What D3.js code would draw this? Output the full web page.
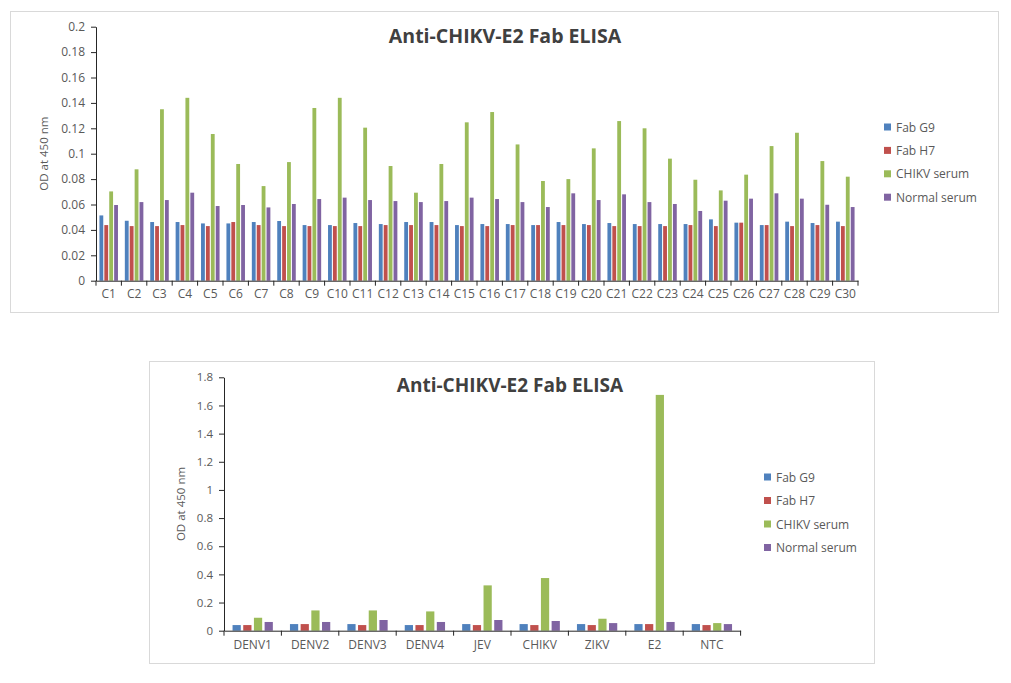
<!DOCTYPE html>
<html><head><meta charset="utf-8">
<script src="https://cdn.jsdelivr.net/npm/d3@7"></script>
<style>
body{margin:0;background:#fff;}
svg text{font-family:"Open Sans","DejaVu Sans",sans-serif;}
</style></head>
<body><svg id="c" width="1011" height="683"></svg>
<script>
const seriesNames = ["Fab G9","Fab H7","CHIKV serum","Normal serum"];
const colors = ["#4F81BD","#C0504D","#9BBB59","#8064A2"];
const chartTitle = "Anti-CHIKV-E2 Fab ELISA";
const yLabel = "OD at 450 nm";

// Top chart
const topCats = ["C1","C2","C3","C4","C5","C6","C7","C8","C9","C10","C11","C12","C13","C14","C15","C16","C17","C18","C19","C20","C21","C22","C23","C24","C25","C26","C27","C28","C29","C30"];
const topG9 = [0.0514,0.0472,0.0462,0.0462,0.0451,0.0451,0.0462,0.047,0.0438,0.0438,0.0454,0.0446,0.0462,0.0462,0.0438,0.0446,0.0446,0.0438,0.0462,0.0446,0.0454,0.0446,0.0446,0.0446,0.0483,0.0457,0.0438,0.0465,0.0454,0.0465];
const topH7 = [0.0438,0.043,0.043,0.0438,0.043,0.0462,0.0438,0.043,0.043,0.043,0.043,0.0438,0.0438,0.0438,0.043,0.043,0.0438,0.0438,0.0438,0.0438,0.043,0.043,0.043,0.0438,0.043,0.0457,0.0438,0.043,0.0438,0.043];
const topCHIKV = [0.0703,0.0877,0.135,0.144,0.1155,0.0919,0.0745,0.0934,0.136,0.144,0.1205,0.0903,0.0693,0.0919,0.1247,0.1328,0.1073,0.0785,0.08,0.1042,0.1257,0.12,0.0961,0.0795,0.0711,0.0835,0.106,0.1165,0.0942,0.0819];
const topNormal = [0.0596,0.0619,0.0635,0.0693,0.0588,0.0596,0.0577,0.0604,0.0643,0.0654,0.0635,0.0627,0.0619,0.0627,0.0654,0.0643,0.0619,0.058,0.0688,0.0635,0.068,0.0619,0.0604,0.0549,0.063,0.0646,0.0688,0.0646,0.0598,0.058];
const topTicks = [0,0.02,0.04,0.06,0.08,0.1,0.12,0.14,0.16,0.18,0.2];
const topTickLabels = ["0","0.02","0.04","0.06","0.08","0.1","0.12","0.14","0.16","0.18","0.2"];

// Bottom chart
const botCats = ["DENV1","DENV2","DENV3","DENV4","JEV","CHIKV","ZIKV","E2","NTC"];
const botG9 = [0.040,0.047,0.047,0.040,0.047,0.047,0.047,0.047,0.047];
const botH7 = [0.040,0.047,0.040,0.040,0.040,0.040,0.040,0.047,0.040];
const botCHIKV = [0.092,0.144,0.144,0.137,0.322,0.374,0.085,1.675,0.054];
const botNormal = [0.062,0.062,0.076,0.062,0.076,0.069,0.054,0.062,0.047];
const botTicks = [0,0.2,0.4,0.6,0.8,1,1.2,1.4,1.6,1.8];
const botTickLabels = ["0","0.2","0.4","0.6","0.8","1","1.2","1.4","1.6","1.8"];

const svg = d3.select("#c");
const textCol = "#595959";
const axisCol = "#262626";

function drawChart(cfg){
  const g = svg.append("g");
  g.append("rect").attr("x",cfg.frame[0]+0.5).attr("y",cfg.frame[1]+0.5)
    .attr("width",cfg.frame[2]-cfg.frame[0]).attr("height",cfg.frame[3]-cfg.frame[1])
    .attr("fill","#fff").attr("stroke","#d9d9d9").attr("stroke-width",1);
  const x = d3.scaleBand().domain(cfg.cats).range([cfg.x0,cfg.x1]).paddingInner(0).paddingOuter(0);
  const y = d3.scaleLinear().domain([0,cfg.yMax]).range([cfg.yb,cfg.yt]);
  const inner = d3.scaleBand().domain(d3.range(4)).range([0,x.bandwidth()]).paddingOuter(cfg.outerPad).paddingInner(cfg.innerPad);
  const series = cfg.series;
  cfg.cats.forEach((c,i)=>{
    series.forEach((s,j)=>{
      g.append("rect").attr("x",x(c)+inner(j)).attr("width",inner.bandwidth())
        .attr("y",y(s[i])).attr("height",y(0)-y(s[i])).attr("fill",colors[j]);
    });
  });
  // y axis
  const ya = d3.axisLeft(y).tickValues(cfg.ticks).tickFormat((d,i)=>cfg.tickLabels[i]).tickSize(5).tickSizeOuter(0).tickPadding(6);
  const yg = g.append("g").attr("transform",`translate(${cfg.x0},0)`).call(ya);
  yg.select(".domain").attr("stroke",axisCol);
  yg.selectAll(".tick line").attr("stroke",axisCol);
  yg.selectAll(".tick text").attr("fill",textCol).attr("font-size",cfg.tickFs);
  // x axis
  const xa = d3.axisBottom(x).tickSize(0).tickPadding(cfg.xPad).tickSizeOuter(0);
  const xg = g.append("g").attr("transform",`translate(0,${cfg.yb})`).call(xa);
  xg.select(".domain").attr("stroke",axisCol);
  xg.selectAll(".tick text").attr("fill",textCol).attr("font-size",cfg.xFs);
  const bounds = cfg.cats.map(c=>x(c)).concat([x(cfg.cats[cfg.cats.length-1])+x.bandwidth()]);
  xg.selectAll("line.bt").data(bounds).enter().append("line").attr("class","bt")
    .attr("x1",d=>d).attr("x2",d=>d).attr("y1",0).attr("y2",5).attr("stroke",axisCol);
  // y label
  g.append("text").attr("transform",`translate(${cfg.ylx},${(cfg.yt+cfg.yb)/2}) rotate(-90)`)
    .attr("text-anchor","middle").attr("dominant-baseline","central").attr("fill",textCol)
    .attr("font-size",cfg.ylFs).text(yLabel);
  // title
  g.append("text").attr("x",cfg.titleX).attr("y",cfg.titleY).attr("text-anchor","middle")
    .attr("font-weight","bold").attr("font-size",cfg.titleFs).attr("fill","#404040").text(chartTitle);
  // legend
  seriesNames.forEach((n,j)=>{
    const ly = cfg.legY + j*cfg.legStep;
    g.append("rect").attr("x",cfg.legX).attr("y",ly-3.5).attr("width",7).attr("height",7).attr("fill",colors[j]);
    g.append("text").attr("x",cfg.legX+12).attr("y",ly).attr("dominant-baseline","central")
      .attr("font-size",cfg.legFs).attr("fill",textCol).text(n);
  });
}

drawChart({frame:[10,11,998,312], cats:topCats, x0:96, x1:858, yt:26.7, yb:280.7, yMax:0.2,
  series:[topG9,topH7,topCHIKV,topNormal], ticks:topTicks, tickLabels:topTickLabels,
  outerPad:0.7, innerPad:0.22, tickFs:12, xFs:12, xPad:9, ylx:43, ylFs:11.5,
  titleX:505, titleY:43, titleFs:19.5, legX:884, legY:127, legStep:23.4, legFs:12});

drawChart({frame:[149,361,874,663], cats:botCats, x0:224, x1:740.6, yt:377.3, yb:630.7, yMax:1.8,
  series:[botG9,botH7,botCHIKV,botNormal], ticks:botTicks, tickLabels:botTickLabels,
  outerPad:0.8, innerPad:0.23, tickFs:11.5, xFs:12, xPad:10, ylx:180, ylFs:11.5,
  titleX:510, titleY:392, titleFs:19, legX:764, legY:477, legStep:23.5, legFs:12});
</script></body></html>
